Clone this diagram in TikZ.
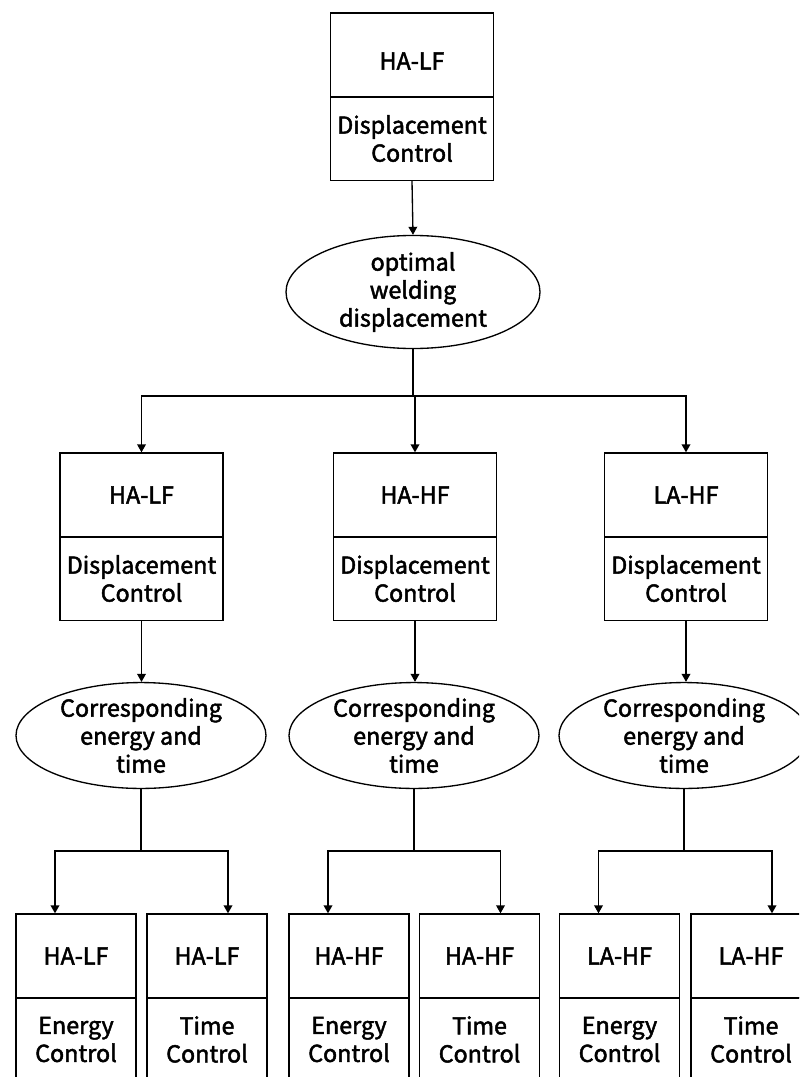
\documentclass[tikz,border=0pt]{standalone}
\usepackage{fontspec}
\setmainfont{Noto Sans CJK SC}[FakeBold=2]
\usetikzlibrary{arrows.meta,shapes.geometric,calc}
\begin{document}
\begin{tikzpicture}[x=0.75pt,y=-0.75pt,
  every node/.style={font=\fontsize{17.5}{21}\selectfont, align=center, inner sep=0pt, line width=1pt},
  wide/.style={draw, rectangle, minimum width=122.25pt, minimum height=63pt},
  narrow/.style={draw, rectangle, minimum width=90pt, minimum height=63pt},
  bigoval/.style={draw, ellipse, minimum width=190.5pt, minimum height=76.5pt},
  oval/.style={draw, ellipse, minimum width=187.5pt, minimum height=78.75pt},
  conn/.style={line width=1pt},
  arr/.style={conn, -{Triangle[length=6pt,width=6.5pt]}}
]
\useasboundingbox (0,0) rectangle (799,1077);
\clip (0,0) rectangle (799,1077);
\fill[white] (0,0) rectangle (799,1077);

% top
\node[wide] (t1) at (412,55) {};
\node at (412,61) {HA-LF};
\node[wide] (t2) at (412,138.5) {Displacement\\Control};
\node[bigoval] (e0) at (413,292) {optimal\\welding\\displacement};
\draw[arr] (t2.south) -- (e0.north);

% middle boxes
\node[wide] (a1) at (141.5,495) {HA-LF};
\node[wide] (a2) at (141.5,578.5) {Displacement\\Control};
\node[wide] (b1) at (415,495) {HA-HF};
\node[wide] (b2) at (415,578.5) {Displacement\\Control};
\node[wide] (c1) at (686,495) {LA-HF};
\node[wide] (c2) at (686,578.5) {Displacement\\Control};

\coordinate (j0) at (413,396);
\draw[conn] (e0.south) -- (j0);
\draw[arr] (j0) -| (a1.north);
\draw[arr] (j0) -| (b1.north);
\draw[arr] (j0) -| (c1.north);

% ellipses
\node[oval] (ea) at (141,735.5) {Corresponding\\energy and\\time};
\node[oval] (eb) at (414,735.5) {Corresponding\\energy and\\time};
\node[oval] (ec) at (684,735.5) {Corresponding\\energy and\\time};
\draw[arr] (a2.south) -- (a2.south |- ea.north);
\draw[arr] (b2.south) -- (b2.south |- eb.north);
\draw[arr] (c2.south) -- (c2.south |- ec.north);

% bottom boxes
\node[narrow] (p1) at (76,956) {HA-LF};
\node[narrow] (p2) at (76,1039.5) {Energy\\Control};
\node[narrow] (q1) at (207,956) {HA-LF};
\node[narrow] (q2) at (207,1039.5) {Time\\Control};
\node[narrow] (r1) at (349,956) {HA-HF};
\node[narrow] (r2) at (349,1039.5) {Energy\\Control};
\node[narrow] (s1) at (479.5,956) {HA-HF};
\node[narrow] (s2) at (479.5,1039.5) {Time\\Control};
\node[narrow] (u1) at (619.5,956) {LA-HF};
\node[narrow] (u2) at (619.5,1039.5) {Energy\\Control};
\node[narrow] (v1) at (751,956) {LA-HF};
\node[narrow] (v2) at (751,1039.5) {Time\\Control};

\coordinate (ja) at (141,851);
\coordinate (jb) at (414,851);
\coordinate (jc) at (684,851);
\draw[conn] (ea.south) -- (ja);
\draw[conn] (eb.south) -- (jb);
\draw[conn] (ec.south) -- (jc);
\draw[arr] (ja) -| ($(p1.north)+(-21,0)$);
\draw[arr] (ja) -| ($(q1.north)+(21,0)$);
\draw[arr] (jb) -| ($(r1.north)+(-21,0)$);
\draw[arr] (jb) -| ($(s1.north)+(21,0)$);
\draw[arr] (jc) -| ($(u1.north)+(-21,0)$);
\draw[arr] (jc) -| ($(v1.north)+(21,0)$);
\end{tikzpicture}
\end{document}
